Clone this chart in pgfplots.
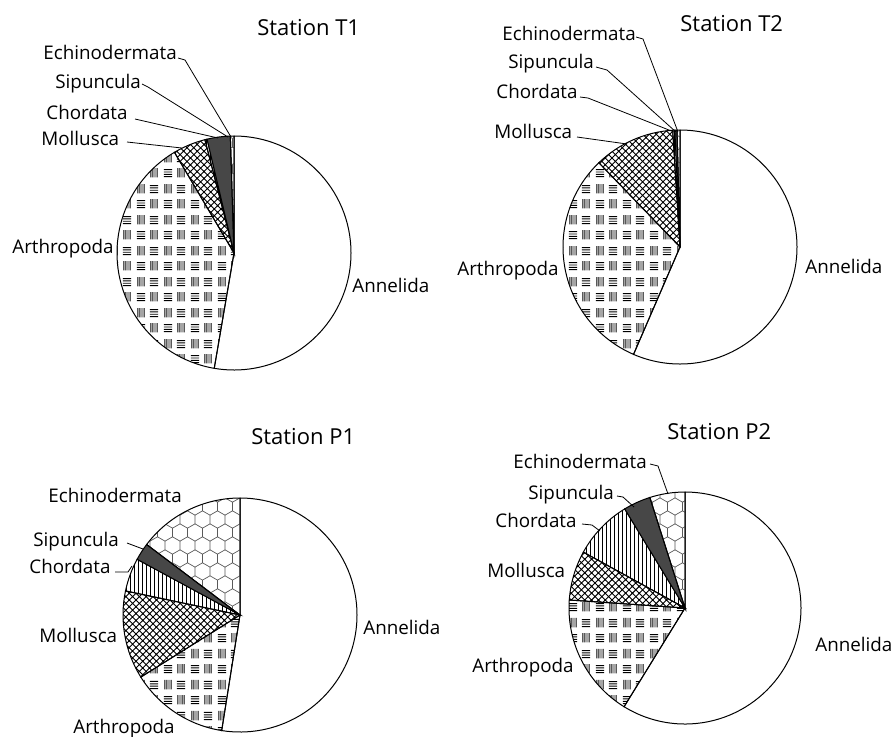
\documentclass[border=0pt]{standalone}
\usepackage{fontspec}
\setmainfont{Open Sans}
\usepackage{pgfplots}
\pgfplotsset{compat=1.18}
\usepackage{pgfplotstable}
\usetikzlibrary{patterns}

% one straight stroke inside a pattern cell
\newcommand\seg[4]{\pgfpathmoveto{\pgfqpoint{#1pt}{#2pt}}\pgfpathlineto{\pgfqpoint{#3pt}{#4pt}}}

% Arthropoda: blocks of short lines, horizontal and vertical in turn
\pgfdeclarepatternformonly{arthro}{\pgfqpoint{0pt}{0pt}}{\pgfqpoint{13.5pt}{15.5pt}}{\pgfqpoint{13.5pt}{15.5pt}}{%
  \pgfsetlinewidth{0.5pt}%
  \seg{1}{1.2}{5.2}{1.2}\seg{1}{2.4}{5.2}{2.4}\seg{1}{3.6}{5.2}{3.6}\seg{1}{4.8}{5.2}{4.8}%
  \seg{8.2}{0.8}{8.2}{5.6}\seg{9.25}{0.8}{9.25}{5.6}\seg{10.3}{0.8}{10.3}{5.6}\seg{11.35}{0.8}{11.35}{5.6}%
  \seg{1.5}{8.55}{1.5}{13.35}\seg{2.55}{8.55}{2.55}{13.35}\seg{3.6}{8.55}{3.6}{13.35}\seg{4.65}{8.55}{4.65}{13.35}%
  \seg{7.7}{8.95}{11.9}{8.95}\seg{7.7}{10.15}{11.9}{10.15}\seg{7.7}{11.35}{11.9}{11.35}\seg{7.7}{12.55}{11.9}{12.55}%
  \pgfusepath{stroke}}
% Mollusca: diagonal crosshatch
\pgfdeclarepatternformonly{xhatch}{\pgfqpoint{-0.5pt}{-0.5pt}}{\pgfqpoint{3.9pt}{3.9pt}}{\pgfqpoint{3.4pt}{3.4pt}}{%
  \pgfsetlinewidth{0.45pt}%
  \seg{-0.3}{-0.3}{3.7}{3.7}\seg{-0.3}{3.7}{3.7}{-0.3}%
  \pgfusepath{stroke}}
% Chordata: vertical lines
\pgfdeclarepatternformonly{vlines}{\pgfqpoint{0pt}{-0.2pt}}{\pgfqpoint{2pt}{2.2pt}}{\pgfqpoint{2pt}{2pt}}{%
  \pgfsetlinewidth{0.4pt}\seg{1}{-0.2}{1}{2.2}\pgfusepath{stroke}}
% Echinodermata: honeycomb
\pgfdeclarepatternformonly{honey}{\pgfqpoint{-0.5pt}{-0.5pt}}{\pgfqpoint{8pt}{13.5pt}}{\pgfqpoint{7.5pt}{12.99pt}}{%
  \pgfsetlinewidth{0.35pt}%
  \seg{0}{2.165}{0}{6.495}\seg{3.75}{0}{0}{2.165}\seg{3.75}{0}{7.5}{2.165}%
  \seg{3.75}{8.66}{0}{6.495}\seg{3.75}{8.66}{7.5}{6.495}\seg{3.75}{8.66}{3.75}{12.99}%
  \pgfusepath{stroke}}

\tikzset{
  s0/.style={fill=white},
  s1/.style={pattern=arthro},
  s2/.style={pattern=xhatch},
  s3/.style={pattern=vlines},
  s4/.style={fill=black!72},
  s5/.style={pattern=honey, pattern color=black!65},
  lab/.style={anchor=base west, inner sep=0pt, font=\fontsize{9.4}{11}\selectfont, text=black},
  ttl/.style={anchor=base west, inner sep=0pt, font=\fontsize{11}{13}\selectfont, text=black},
  lead/.style={line width=0.4pt},
}

% percentage of each phylum, clockwise from 12 o'clock
\pgfplotstableread{
taxon pct
Annelida 52.7
Arthropoda 38.8
Mollusca 4.5
Chordata 0.3
Sipuncula 3.2
Echinodermata 0.5
}\Tone
\pgfplotstableread{
taxon pct
Annelida 56.5
Arthropoda 31.3
Mollusca 11.2
Chordata 0.3
Sipuncula 0.3
Echinodermata 0.4
}\Ttwo
\pgfplotstableread{
taxon pct
Annelida 52.5
Arthropoda 13.6
Mollusca 12.2
Chordata 4.6
Sipuncula 2.4
Echinodermata 14.7
}\Pone
\pgfplotstableread{
taxon pct
Annelida 58.8
Arthropoda 17.3
Mollusca 6.9
Chordata 8.3
Sipuncula 3.8
Echinodermata 4.9
}\Ptwo

% #1 table, #2 #3 centre (axis units), #4 radius
\newcommand\pie[4]{%
  \def\cum{0}%
  \pgfplotsforeachungrouped \i in {0,...,5}{%
    \pgfplotstablegetelem{\i}{pct}\of{#1}%
    \let\pval\pgfplotsretval
    \pgfmathsetmacro\aone{90-3.6*\cum}%
    \pgfmathsetmacro\cum{\cum+\pval}%
    \pgfmathsetmacro\atwo{90-3.6*\cum}%
    \edef\tmp{\noexpand\draw[line width=0.5pt, s\i] (axis cs:#2,#3) -- ++(\aone:#4) arc[start angle=\aone, end angle=\atwo, radius=#4] -- cycle;}%
    \tmp}}

\begin{document}
\begin{tikzpicture}
\begin{axis}[x=0.5pt, y=0.5pt, xmin=0, xmax=894, ymin=0, ymax=736,
  y dir=reverse, hide axis, clip=false, at={(0,0)}, anchor=south west]
  \coordinate (BL) at (axis cs:0,736);
  \coordinate (TR) at (axis cs:894,0);

  % Station T1
  \pie{\Tone}{234}{253}{58.5pt}
  \node[ttl] at (axis cs:257,35.5) {Station T1};
  \node[lab] at (axis cs:43,59.5) {Echinodermata};
  \node[lab] at (axis cs:55,88) {Sipuncula};
  \node[lab] at (axis cs:46,119) {Chordata};
  \node[lab] at (axis cs:41,145) {Mollusca};
  \node[lab] at (axis cs:12,253) {Arthropoda};
  \node[lab] at (axis cs:352,292) {Annelida};
  \draw[lead] (axis cs:178,58) -- (axis cs:185,60) -- (axis cs:231,137);
  \draw[lead] (axis cs:142,84) -- (axis cs:148,87) -- (axis cs:228,137);
  \draw[lead] (axis cs:135,119) -- (axis cs:218,138);
  \draw[lead] (axis cs:127,142) -- (axis cs:182,148);

  % Station T2
  \pie{\Ttwo}{680}{247}{58.5pt}
  \node[ttl] at (axis cs:680,31) {Station T2};
  \node[lab] at (axis cs:502,40) {Echinodermata};
  \node[lab] at (axis cs:508,68) {Sipuncula};
  \node[lab] at (axis cs:496,98) {Chordata};
  \node[lab] at (axis cs:494,138) {Mollusca};
  \node[lab] at (axis cs:457,275) {Arthropoda};
  \node[lab] at (axis cs:805,273) {Annelida};
  \draw[lead] (axis cs:636,37) -- (axis cs:643,39) -- (axis cs:678,132);
  \draw[lead] (axis cs:596,67) -- (axis cs:607,70) -- (axis cs:676,132);
  \draw[lead] (axis cs:580,97) -- (axis cs:588,98) -- (axis cs:674,132);
  \draw[lead] (axis cs:577,137) -- (axis cs:627,144);

  % Station P1
  \pie{\Pone}{240}{615}{58.5pt}
  \node[ttl] at (axis cs:251,444) {Station P1};
  \node[lab] at (axis cs:48,502) {Echinodermata};
  \node[lab] at (axis cs:33,546) {Sipuncula};
  \node[lab] at (axis cs:29,573) {Chordata};
  \node[lab] at (axis cs:39,642) {Mollusca};
  \node[lab] at (axis cs:73,733) {Arthropoda};
  \node[lab] at (axis cs:363,634) {Annelida};
  \draw[lead] (axis cs:127,543) -- (axis cs:135,546) -- (axis cs:143,549);
  \draw[lead] (axis cs:115,572) -- (axis cs:128,572) -- (axis cs:132,566);

  % Station P2
  \pie{\Ptwo}{685}{608}{58pt}
  \node[ttl] at (axis cs:667,439) {Station P2};
  \node[lab] at (axis cs:513,468) {Echinodermata};
  \node[lab] at (axis cs:528,499) {Sipuncula};
  \node[lab] at (axis cs:495,527) {Chordata};
  \node[lab] at (axis cs:487,577) {Mollusca};
  \node[lab] at (axis cs:472,672) {Arthropoda};
  \node[lab] at (axis cs:815,651) {Annelida};
  \draw[lead] (axis cs:650,464) -- (axis cs:658,466) -- (axis cs:668,494);
  \draw[lead] (axis cs:617,496) -- (axis cs:623,497) -- (axis cs:634,507);
  \draw[lead] (axis cs:582,524) -- (axis cs:592,525) -- (axis cs:600,531);
\end{axis}
\pgfresetboundingbox
\path (BL) rectangle (TR);
\end{tikzpicture}
\end{document}
